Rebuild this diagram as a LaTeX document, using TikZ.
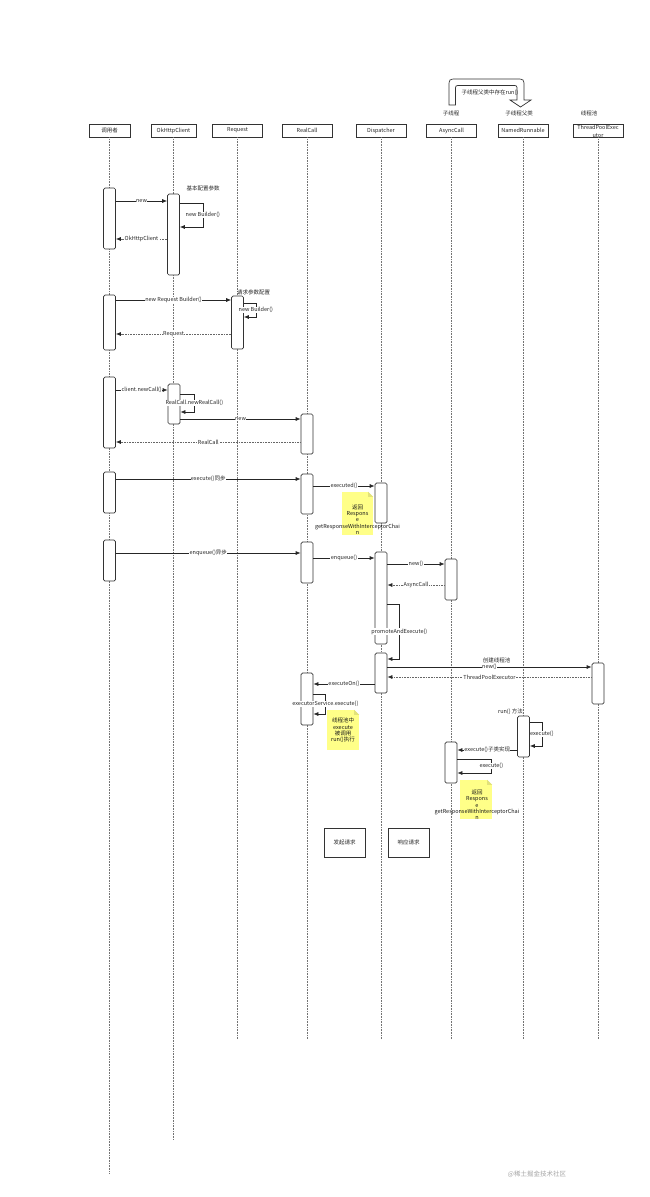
\documentclass[tikz,border=0pt]{standalone}
\usepackage{fontspec}
\setmainfont{Noto Sans CJK SC}
\usetikzlibrary{arrows.meta}
\newcommand\dgf{\fontsize{5.5}{6.3}\selectfont}
\definecolor{noteyel}{HTML}{FFFF88}
\definecolor{notefold}{HTML}{E2E27A}
\begin{document}
\begin{tikzpicture}[x=1pt,y=-1pt,
  actor/.style={draw=black!80, fill=white, line width=0.7pt, minimum height=13pt, inner sep=0pt, font=\dgf, text=black!85},
  life/.style={draw=black!55, line width=0.6pt, dash pattern=on 0.8pt off 0.8pt},
  act/.style={draw=black!80, fill=white, line width=0.7pt, rounded corners=1.5pt, minimum width=12pt, inner sep=0pt},
  msg/.style={draw=black!85, line width=0.7pt, -{Latex[length=5pt,width=4pt]}},
  ret/.style={draw=black!60, line width=0.7pt, dash pattern=on 0.8pt off 0.8pt, -{Latex[length=5pt,width=4pt,color=black!85]}},
  lbl/.style={fill=white, inner sep=0.4pt, font=\dgf, text=black!85},
  txt/.style={inner sep=0pt, font=\dgf, text=black!85},
  notebox/.style={fill=noteyel, inner sep=0pt, minimum width=31pt},
  notetxt/.style={inner sep=0pt, font=\dgf, align=center, text=black!90},
  plain/.style={draw=black!80, fill=white, line width=0.7pt, minimum width=41pt, minimum height=29pt, font=\dgf, text=black!85}
]
\useasboundingbox (0,0) rectangle (650,1197);
\fill[white] (0,0) rectangle (650,1197);

% header boxes
\node[actor, minimum width=41pt] (hC) at (109.5,130.5) {调用者};
\node[actor, minimum width=45pt] (hO) at (173.5,130.5) {OkHttpClient};
\node[actor, minimum width=50pt] (hR) at (237.5,130.5) {Request};
\node[actor, minimum width=50pt] (hRC) at (307,130.5) {RealCall};
\node[actor, minimum width=50pt] (hD) at (381,130.5) {Dispatcher};
\node[actor, minimum width=50pt] (hA) at (451.5,130.5) {AsyncCall};
\node[actor, minimum width=50pt] (hN) at (523,130.5) {NamedRunnable};
\node[actor, minimum width=50pt] (hT) at (598,130.5) {};
\node[txt, align=center, font=\fontsize{5.5}{7.8}\selectfont] (hTt) at (598,131.5) {ThreadPoolExec\\utor};

% lifeline ends
\coordinate (eC) at (109.5,1173);
\coordinate (eO) at (173.5,1140);
\coordinate (eR) at (237.5,1039);
\coordinate (eRC) at (307,1039);
\coordinate (eD) at (381,1039);
\coordinate (eA) at (451.5,1039);
\coordinate (eN) at (523,1039);
\coordinate (eT) at (598,1039);
\foreach \h/\e in {hC/eC,hO/eO,hR/eR,hRC/eRC,hD/eD,hA/eA,hN/eN,hT/eT}
  \draw[life] (\h.south) -- (\e);

% top block arrow and annotations
\draw[draw=black!80, fill=white, line width=0.7pt]
  (449,105) -- (449,87) .. controls (449,79) .. (457,79) -- (516,79)
  .. controls (524,79) .. (524,87) -- (524,100) -- (531,100) -- (520.5,107)
  -- (510,100) -- (517,100) -- (517,90) .. controls (517,85.5) .. (512.5,85.5)
  -- (460,85.5) .. controls (455.5,85.5) .. (455.5,90) -- (455.5,105) -- cycle;
\node[txt] (tRun) at (490,93) {子线程父类中存在run()};
\node[txt] (tSub) at (451,113) {子线程};
\node[txt] (tPar) at (519,113) {子线程父类};
\node[txt] (tPool) at (589,113) {线程池};

% activations
\node[act, minimum height=61pt] (c1) at (109.5,218.5) {};
\node[act, minimum height=81pt] (o1) at (173.5,234.5) {};
\node[act, minimum height=55pt] (c2) at (109.5,322.5) {};
\node[act, minimum height=53pt] (r1) at (237.5,322.5) {};
\node[act, minimum height=71pt] (c3) at (109.5,412.5) {};
\node[act, minimum height=40pt] (o2) at (174,404) {};
\node[act, minimum height=40pt] (rc1) at (307,434) {};
\node[act, minimum height=41pt] (c4) at (109.5,492.5) {};
\node[act, minimum height=40pt] (rc2) at (307,494) {};
\node[act, minimum height=40pt] (d1) at (381,503) {};
\node[act, minimum height=41pt] (c5) at (109.5,560.5) {};
\node[act, minimum height=41pt] (rc3) at (307,562.5) {};
\node[act, minimum height=92pt] (d2) at (381,598) {};
\node[act, minimum height=41pt] (a1) at (451,579.5) {};
\node[act, minimum height=40pt] (d3) at (381,673) {};
\node[act, minimum height=41pt] (t1) at (598,683.5) {};
\node[act, minimum height=52pt] (rc4) at (307,699) {};
\node[act, minimum height=41pt] (n1) at (523.5,736.5) {};
\node[act, minimum height=41pt] (a2) at (451,762.5) {};

% block 1
\node[txt] (tCfg) at (203,188) {基本配置参数};
\draw[msg] (c1.east |- 0,201) -- node[lbl]{new} (o1.west |- 0,201);
\draw[msg] (o1.east |- 0,203) -- ++(23,0) |- node[lbl,pos=0.25]{new Builder()} (o1.east |- 0,227);
\draw[ret] (o1.west |- 0,239) -- node[lbl]{OkHttpClient} (c1.east |- 0,239);

% block 2
\node[txt] (tReq) at (253.5,292) {请求参数配置};
\draw[msg] (c2.east |- 0,300) -- node[lbl]{new Request Builder()} (r1.west |- 0,300);
\draw[msg] (r1.east |- 0,303) -- ++(12,0) |- node[lbl,pos=0.25]{new Builder()} (r1.east |- 0,317);
\draw[ret] (r1.west |- 0,334) -- node[lbl]{Request} (c2.east |- 0,334);

% block 3
\draw[msg] (c3.east |- 0,390) -- node[lbl]{client.newCall()} (o2.west |- 0,390);
\draw[msg] (o2.east |- 0,394) -- ++(14,0) |- node[lbl,pos=0.25]{RealCall.newRealCall()} (o2.east |- 0,412);
\draw[msg] (o2.east |- 0,419) -- node[lbl]{new} (rc1.west |- 0,419);
\draw[ret] (rc1.west |- 0,442) -- node[lbl]{RealCall} (c3.east |- 0,442);

% block 4 (sync)
\draw[msg] (c4.east |- 0,479) -- node[lbl]{execute()同步} (rc2.west |- 0,479);
\draw[msg] (rc2.east |- 0,486) -- node[lbl]{executed()} (d1.west |- 0,486);
\node[notebox, minimum height=43pt] (nt1) at (357.5,513.5) {};
\fill[white] (nt1.north east) -- ++(-5,0) -- ++(5,5) -- cycle;
\fill[notefold] (nt1.north east) ++(-5,0) -- ++(5,5) -- ++(-5,0) -- cycle;
\node[notetxt] (nt1t) at (357.5,519.5) {返回\\Respons\\e\\getResponseWithInterceptorChai\\n};

% block 5 (async)
\draw[msg] (c5.east |- 0,553) -- node[lbl]{enqueue()异步} (rc3.west |- 0,553);
\draw[msg] (rc3.east |- 0,558) -- node[lbl]{enqueue()} (d2.west |- 0,558);
\draw[msg] (d2.east |- 0,564) -- node[lbl]{new()} (a1.west |- 0,564);
\draw[ret] (a1.west |- 0,585) -- node[lbl]{AsyncCall} (d2.east |- 0,585);
\draw[msg] (d2.east |- 0,604) -- ++(12,0) |- node[lbl,pos=0.25]{promoteAndExecute()} (d3.east |- 0,659);
\draw[msg] (d3.east |- 0,667) -- node[lbl]{new()} (t1.west |- 0,667);
\node[txt] (tNewPool) at (496.5,660.5) {创建线程池};
\draw[ret] (t1.west |- 0,677) -- node[lbl]{ThreadPoolExecutor} (d3.east |- 0,677);
\draw[msg] (d3.west |- 0,684) -- node[lbl]{executeOn()} (rc4.east |- 0,684);
\draw[msg] (rc4.east |- 0,694) -- ++(12,0) |- node[lbl,pos=0.25]{executorService.execute()} (rc4.east |- 0,714);
\node[notebox, minimum width=32pt, minimum height=40pt] (nt2) at (343,730) {};
\fill[white] (nt2.north east) -- ++(-5,0) -- ++(5,5) -- cycle;
\fill[notefold] (nt2.north east) ++(-5,0) -- ++(5,5) -- ++(-5,0) -- cycle;
\node[notetxt] (nt2t) at (343,730.5) {线程池中\\execute\\被调用\\run()执行};

\node[txt] (tRunM) at (510.5,712) {run() 方法};
\draw[msg] (n1.east |- 0,722) -- ++(12,0) |- node[lbl,pos=0.25]{execute()} (n1.east |- 0,746);
\draw[msg] (n1.west |- 0,750) -- node[lbl]{execute()子类实现} (a2.east |- 0,750);
\draw[msg] (a2.east |- 0,759) -- ++(34,0) |- node[lbl,pos=0.25]{execute()} (a2.east |- 0,773);
\node[notebox, minimum width=32pt, minimum height=39pt] (nt3) at (476,799.5) {};
\fill[white] (nt3.north east) -- ++(-5,0) -- ++(5,5) -- cycle;
\fill[notefold] (nt3.north east) ++(-5,0) -- ++(5,5) -- ++(-5,0) -- cycle;
\node[notetxt] (nt3t) at (477,805) {返回\\Respons\\e\\getResponseWithInterceptorChai\\n};

% legend boxes
\node[plain] (bSend) at (344.5,842.5) {发起请求};
\node[plain] (bResp) at (408.5,842.5) {响应请求};

% watermark
\node[inner sep=0pt, font=\fontsize{6.5}{7}\selectfont, text=black!35] (wm) at (537,1174) {@稀土掘金技术社区};
\end{tikzpicture}
\end{document}
